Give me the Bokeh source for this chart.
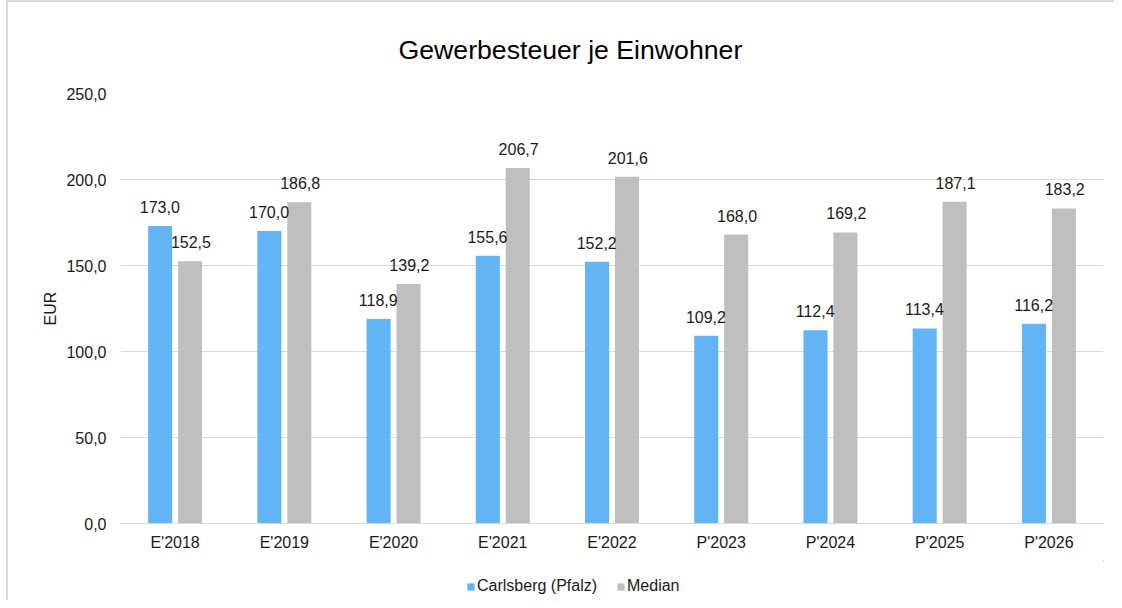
from bokeh.plotting import figure
from bokeh.models import ColumnDataSource, FactorRange, Range1d, Legend, LegendItem, CustomJSTickFormatter, Title
from bokeh.layouts import column
from bokeh.transform import dodge
from bokeh.embed import file_html
from bokeh.resources import INLINE
from bokeh.core.properties import value

categories = ["E'2018", "E'2019", "E'2020", "E'2021", "E'2022", "P'2023", "P'2024", "P'2025", "P'2026"]
carlsberg = [173.0, 170.0, 118.9, 155.6, 152.2, 109.2, 112.4, 113.4, 116.2]
median = [152.5, 186.8, 139.2, 206.7, 201.6, 168.0, 169.2, 187.1, 183.2]
series_names = ["Carlsberg (Pfalz)", "Median"]
y_ticks = [0, 50, 100, 150, 200, 250]

def fmt(v):
    return f"{v:.1f}".replace(".", ",")

src = ColumnDataSource(dict(
    cat=categories,
    c=carlsberg,
    m=median,
    cl=[fmt(v) for v in carlsberg],
    ml=[fmt(v) for v in median],
))

FONT = "Liberation Sans"
BLUE = "#63B4F5"
GREY = "#BFBFBF"
TXT = "#1A1A1A"
FS = "16px"

p = figure(width=1106, height=558, x_range=FactorRange(*categories), y_range=Range1d(0, 250),
           output_backend="svg", toolbar_location=None,
           min_border_left=112, min_border_right=11, min_border_top=91, min_border_bottom=37)
p.outline_line_color = None
p.background_fill_color = "white"
p.border_fill_color = "white"

t = Title(text="Gewerbesteuer je Einwohner", align="left", text_font=FONT, text_font_size="26.67px",
          text_font_style="normal", text_color="#000000", standoff=58, offset=278)
p.add_layout(t, "above")

r1 = p.vbar(x=dodge("cat", -0.137, range=p.x_range), top="c", width=0.22, source=src,
            fill_color=BLUE, line_color=None)
r2 = p.vbar(x=dodge("cat", 0.137, range=p.x_range), top="m", width=0.22, source=src,
            fill_color=GREY, line_color=None)

p.text(x=dodge("cat", -0.14, range=p.x_range), y="c", text="cl", source=src, y_offset=-19,
       text_align="center", text_baseline="middle", text_font=value(FONT), text_font_size=FS, text_color=TXT)
p.text(x=dodge("cat", 0.145, range=p.x_range), y="m", text="ml", source=src, y_offset=-19,
       text_align="center", text_baseline="middle", text_font=value(FONT), text_font_size=FS, text_color=TXT)

p.yaxis.ticker = y_ticks
p.yaxis.formatter = CustomJSTickFormatter(code="return tick.toFixed(1).replace('.', ',');")
p.yaxis.axis_line_color = None
p.yaxis.major_tick_line_color = None
p.yaxis.minor_tick_line_color = None
p.yaxis.major_label_text_font = FONT
p.yaxis.major_label_text_font_size = FS
p.yaxis.major_label_text_color = TXT
p.yaxis.major_label_standoff = 8
p.yaxis.axis_label = "EUR"
p.yaxis.axis_label_text_font = FONT
p.yaxis.axis_label_text_font_size = FS
p.yaxis.axis_label_text_font_style = "normal"
p.yaxis.axis_label_text_color = TXT
p.yaxis.axis_label_standoff = 4

p.xaxis.axis_line_color = "#D9D9D9"
p.xaxis.axis_line_width = 1
p.xaxis.major_tick_line_color = None
p.xaxis.minor_tick_line_color = None
p.xaxis.major_label_text_font = FONT
p.xaxis.major_label_text_font_size = FS
p.xaxis.major_label_text_color = TXT
p.xaxis.major_label_standoff = 4

p.xgrid.grid_line_color = None
p.ygrid.grid_line_color = "#D9D9D9"
p.ygrid.grid_line_width = 1

# legend strip below the chart (its bars lie outside the visible ranges; only the swatches show)
p2 = figure(width=1106, height=40, x_range=Range1d(-1001, -1000), y_range=Range1d(-1001, -1000),
            output_backend="svg", toolbar_location=None,
            min_border_left=0, min_border_right=0, min_border_top=0, min_border_bottom=0)
p2.axis.visible = False
p2.grid.visible = False
p2.outline_line_color = None
p2.border_fill_color = "white"
l1 = p2.vbar(x="c", top="c", bottom="m", width=0.1, source=src, fill_color=BLUE, line_color=None)
l2 = p2.vbar(x="m", top="m", bottom="c", width=0.1, source=src, fill_color=GREY, line_color=None)

legend = Legend(items=[LegendItem(label=series_names[0], renderers=[l1]),
                       LegendItem(label=series_names[1], renderers=[l2])],
                orientation="horizontal", location=(346, 5),
                label_text_font=FONT, label_text_font_size=FS, label_text_color=TXT,
                glyph_width=9, glyph_height=9, label_standoff=2, spacing=19,
                border_line_color=None, background_fill_alpha=0, margin=0, padding=4)
p2.add_layout(legend, "center")

layout = column(p, p2, spacing=0,
                styles={"margin-left": "6px",
                        "border-top": "2px solid #D9D9D9", "border-left": "2px solid #D9D9D9"})
open("out.html", "w").write(file_html(layout, INLINE))
